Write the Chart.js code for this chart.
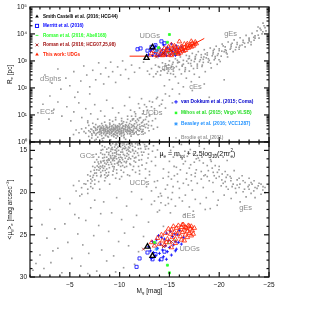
<!DOCTYPE html>
<html>
<head>
<meta charset="utf-8">
<script src="https://cdn.jsdelivr.net/npm/chart.js@4.4.1/dist/chart.umd.min.js"></script>
<style>
  html, body { margin: 0; padding: 0; background: #fff; }
  #wrap { width: 309px; height: 329px; }
</style>
</head>
<body>
<div id="wrap"><canvas id="grafico"></canvas></div>
<script>
// ---- datos ----
// eje x: M_g [mag]; panel superior: R_e [pc]; panel inferior: <mu_g>_e [mag arcsec^-2]
const magTicks = [-5, -10, -15, -20, -25];
const reTicks = [1, 10, 100, 1000, 10000, 100000];
const reTickLabels = ['10⁰', '10¹', '10²', '10³', '10⁴', '10⁵'];
const muTicks = [15, 20, 25, 30];

// This work: UDGs
const udgTop = [[-13.2,1900],[-13.5,2300],[-13.8,1700],[-14.0,2600],[-14.2,2000],[-14.3,1600],[-14.5,2900],[-14.6,2200],[-14.8,1800],[-14.9,3300],[-15.0,2500],[-15.1,2000],[-15.2,1600],[-15.3,2800],[-15.4,2300],[-15.5,3600],[-15.6,1900],[-15.7,2600],[-15.8,2100],[-15.9,3000],[-16.0,2400],[-16.1,2000],[-16.2,3400],[-16.3,2700],[-16.4,2300],[-16.5,3100],[-16.6,2500],[-16.7,2900],[-16.8,3700],[-16.9,3000],[-17.0,3400],[-17.1,3900],[-17.2,3300],[-17.3,4500],[-17.4,3600],[-17.5,4100],[-17.6,5000],[-17.7,4400],[-16.2,2900],[-16.8,4300],[-15.6,3200],[-17.2,5300],[-16.5,4200],[-14.7,2500],[-15.2,3900],[-16.0,5200],[-14.4,1800],[-15.9,1800]];
const udgBottom = [[-13.2,25.9],[-13.5,26.3],[-13.8,25.4],[-14.0,26.1],[-14.2,25.0],[-14.3,25.7],[-14.5,26.2],[-14.6,24.8],[-14.8,25.5],[-14.9,24.3],[-15.0,25.9],[-15.1,24.9],[-15.2,24.4],[-15.3,25.3],[-15.4,24.0],[-15.5,24.7],[-15.6,25.5],[-15.7,24.2],[-15.8,24.9],[-15.9,23.9],[-16.0,24.5],[-16.1,25.2],[-16.2,24.1],[-16.3,24.7],[-16.4,23.8],[-16.5,24.4],[-16.6,25.0],[-16.7,24.2],[-16.8,24.6],[-16.9,23.9],[-17.0,24.8],[-17.1,24.3],[-17.2,24.0],[-17.3,24.5],[-17.4,24.9],[-17.5,24.2],[-16.6,24.1],[-17.0,24.0],[-16.3,23.8],[-16.2,25.6],[-16.8,25.3],[-15.6,26.0],[-17.2,25.1],[-16.5,25.7],[-14.7,25.9],[-15.2,26.5]];
const udgLimit = [[-11.0,1500],[-15.2,1500],[-18.5,6800]];

const smithTop = [[-12.7,1300],[-13.3,3200]];
const smithBottom = [[-12.8,26.4],[-13.3,27.5]];

const merrittTop = [[-11.8,2700],[-12.1,2900],[-13.2,3300],[-14.2,5300],[-14.5,4500],[-12.8,2400],[-13.6,3800]];
const merrittBottom = [[-11.7,28.8],[-12.0,27.8],[-13.3,27.9],[-14.2,27.9],[-13.6,27.3],[-12.8,27.1],[-14.5,27.0]];

const romanAbellTop = [[-14.8,2000],[-15.5,1800]];
const romanAbellBottom = [[-14.8,26.0],[-15.5,25.6]];

const romanHcgTop = [[-13.7,1400],[-14.4,1900],[-15.2,2500]];
const romanHcgBottom = [[-12.4,26.7],[-14.4,26.4],[-15.2,25.8]];

const vanDokkumTop = [[-12.9,1700],[-13.1,2300],[-13.3,1600],[-13.4,2800],[-13.5,2000],[-13.6,3500],[-13.7,1800],[-13.8,2500],[-13.9,1550],[-14.0,3000],[-14.1,2100],[-14.2,1700],[-14.3,2600],[-14.4,3900],[-14.5,1900],[-14.6,2300],[-14.7,1600],[-14.8,3200],[-14.9,2000],[-15.0,2700],[-15.1,1750],[-15.2,4300],[-15.3,2200],[-15.4,3000],[-15.5,1900],[-15.6,2500],[-15.7,3600],[-15.8,2100],[-15.9,2800],[-16.0,1800],[-16.2,3300],[-16.4,2400],[-13.2,2600],[-14.0,1600],[-14.7,2900],[-15.6,1600]];
const vanDokkumBottom = [[-12.9,26.4],[-13.1,26.9],[-13.3,25.8],[-13.4,27.1],[-13.5,26.0],[-13.6,27.5],[-13.7,25.6],[-13.8,26.6],[-13.9,25.1],[-14.0,27.2],[-14.1,26.1],[-14.2,25.3],[-14.3,26.8],[-14.4,27.6],[-14.5,25.5],[-14.6,26.3],[-14.7,24.8],[-14.8,27.0],[-14.9,25.7],[-15.0,26.5],[-15.1,24.6],[-15.2,27.4],[-15.3,25.2],[-15.4,26.2],[-15.5,24.9],[-15.6,25.8],[-15.7,26.7],[-15.8,25.0],[-15.9,25.9],[-16.0,24.5],[-16.2,26.1],[-16.4,25.3],[-13.2,27.8],[-14.0,28.0],[-14.7,27.9],[-15.6,26.9]];

const mihosTop = [[-15.0,9500],[-14.8,4900],[-13.9,3100]];
const mihosBottom = [[-14.8,28.6],[-15.0,29.5],[-13.5,25.9]];

const beasleyTop = [[-13.7,2400]];
const beasleyBottom = [[-13.7,26.7]];

// Brodie et al. (2011)
const brodieTop = [
  [-6.6,2.1],[-6.6,3.3],[-6.9,1.6],[-6.9,2.6],[-6.9,4.1],[-7.2,2.0],[-7.2,2.9],[-7.2,1.4],[-7.4,3.6],[-7.4,2.3],
  [-7.6,1.8],[-7.6,2.7],[-7.6,4.4],[-7.6,3.1],[-7.8,2.2],[-7.8,1.5],[-7.8,3.4],[-8.0,2.5],[-8.0,3.9],[-8.0,1.9],[-8.0,2.9],
  [-8.2,1.7],[-8.2,3.2],[-8.2,2.2],[-8.2,4.8],[-8.4,2.6],[-8.4,2.0],[-8.4,3.6],[-8.4,1.4],[-8.6,3.0],[-8.6,2.4],[-8.6,1.8],
  [-8.6,4.2],[-8.6,2.8],[-8.8,2.1],[-8.8,3.4],[-8.8,2.7],[-8.8,1.6],[-9.0,2.9],[-9.0,2.3],[-9.0,3.8],[-9.0,1.9],[-9.0,5.0],
  [-9.2,2.5],[-9.2,3.1],[-9.2,1.7],[-9.2,2.2],[-9.4,3.5],[-9.4,2.8],[-9.4,2.0],[-9.4,4.4],[-9.4,2.6],[-9.6,2.4],[-9.6,3.0],
  [-9.6,1.8],[-9.6,3.7],[-9.8,2.7],[-9.8,2.1],[-9.8,4.0],[-9.8,3.3],[-9.8,1.6],[-10.0,2.9],[-10.0,2.4],[-10.0,3.6],[-10.0,1.9],
  [-10.2,3.2],[-10.2,2.6],[-10.2,2.0],[-10.2,4.6],[-10.4,2.8],[-10.4,3.9],[-10.4,2.2],[-10.4,1.7],[-10.6,3.4],[-10.6,2.5],
  [-10.6,4.3],[-10.8,2.9],[-10.8,2.0],[-10.8,3.7],[-11.0,3.1],[-11.0,4.8],[-11.0,2.4],[-11.2,3.5],[-11.2,2.7],[-11.4,4.1],
  [-11.4,3.0],[-11.7,3.6],[-11.7,5.2],[-12.0,4.4],[-12.0,3.2],[-12.3,5.5],
  [-8.13,2.35],[-8.47,3.05],[-8.92,2.48],[-9.37,3.27],[-9.71,2.12],[-10.13,2.77],[-10.52,3.02],[-10.94,2.61],[-9.08,2.69],[-9.55,2.26],
  [-8.66,2.05],[-10.27,3.45],[-9.83,2.93],[-9.19,3.62],[-8.38,2.83],[-10.71,2.31],[-11.08,2.88],[-9.47,1.93],[-8.79,3.12],[-10.38,2.53],
  [-9.63,3.32],[-8.97,2.17],[-10.05,2.07],[-9.29,2.41],[-8.55,2.63],[-9.91,2.55],[-10.61,2.84],[-9.14,2.98],[-8.24,2.71],[-10.84,3.29],
  [-7.93,2.31],[-7.66,2.04],[-7.37,2.58],[-7.11,3.03],[-11.33,2.52],[-11.56,3.21],[-11.82,2.79],[-12.12,2.95],[-12.43,3.8],[-12.71,4.6],
  [-9.76,1.75],[-9.42,1.58],[-10.18,1.66],[-8.87,1.52],[-10.47,1.91],[-9.02,4.45],[-9.58,4.12],[-10.33,3.88],[-8.71,3.83],[-10.89,4.18],
  [-8.29,4.03],[-9.97,4.71],[-7.84,3.75],[-11.19,4.36],[-11.47,3.62],[-6.43,2.42],[-6.18,3.05],[-5.92,2.18],[-5.63,2.76],[-5.37,1.88],
  [-9.33,2.84],[-9.66,2.63],[-10.01,3.18],[-8.44,2.27],[-8.06,2.78],[-10.76,2.72],[-9.88,2.36],[-9.51,2.91],[-10.23,2.19],[-8.83,2.56],
  [-7.52,3.41],[-7.23,1.75],[-8.58,1.71],[-11.02,1.99],[-11.63,2.33],[-12.27,2.46],[-10.57,3.71],[-9.24,3.95],[-8.15,3.52],[-9.71,3.58],
  [-12.85,3.3],[-13.2,4.0],[-11.9,6.2],[-10.4,5.6],[-9.3,5.8],[-8.5,5.4],[-7.3,4.9],[-6.8,5.2],[-12.6,6.8],[-11.3,6.5],
  [-10.3,4.9],[-10.7,5.3],[-11.1,5.9],[-11.5,4.7],[-11.8,4.2],[-12.2,5.1],[-12.5,4.4],[-12.9,5.7],[-13.3,6.1],[-11.4,7.2],
  [-10.8,6.9],[-12.0,7.8],[-12.7,8.5],[-11.6,8.9],[-10.2,7.4],[-9.6,6.6],[-13.6,7.3],[-13.0,9.2],[-11.0,3.4],[-11.3,3.9],
  [-11.7,3.1],[-12.05,3.65],[-12.35,2.85],[-12.6,3.45],[-12.9,4.1],[-11.25,2.25],[-10.95,3.55],[-10.65,4.05],[-10.35,3.15],[-10.05,4.25],
  [-9.85,3.75],[-9.45,3.15],[-9.15,2.05],[-8.95,3.35],[-8.65,3.55],[-8.35,3.25],[-8.05,3.25],[-7.75,2.85],[-7.45,2.15],[-7.05,2.35],
  [-10.45,1.45],[-11.15,1.65],[-11.85,1.85],[-12.55,2.15],[-9.65,1.38],[-8.25,1.32],[-7.65,1.25],[-12.95,2.6],[-13.4,3.0],[-13.8,3.5],
  [-11.45,2.05],[-11.95,2.55],[-12.25,3.95],[-10.85,2.45],[-10.15,2.35],[-9.35,1.85],[-8.75,2.35],[-8.15,2.05],[-11.6,6.0],[-12.4,6.4],
  [-8.3,1.1],[-9.1,1.2],[-9.9,1.05],[-10.6,1.25],[-7.5,1.15],
  [-1.8,12],[-2.3,25],[-2.9,7],[-3.4,16],[-3.8,30],[-4.2,9],[-4.7,20],[-5.1,6],[-5.4,13],[-5.9,28],[-6.2,8],[-6.6,17],
  [-6.8,6],[-7.1,11],[-7.5,24],[-7.8,7],[-8.1,14],[-8.5,9],[-8.7,35],[-9.0,6.5],[-9.3,18],[-9.6,8],[-9.9,12],[-10.2,6],
  [-10.5,22],[-10.8,9],[-11.1,15],[-11.3,7],[-11.6,11],[-11.9,26],[-12.1,8],[-12.4,14],[-12.7,20],[-13.0,10],[-13.3,30],
  [-13.5,17],[-13.8,45],[-14.2,25],[-14.6,60],[-12.2,40],[-11.0,45],[-5.5,45],[-3.0,50],[-7.0,60],
  [-11.2,9],[-11.5,13],[-11.8,7],[-12.0,18],[-12.3,11],[-12.5,24],[-12.8,15],[-13.0,32],[-13.2,20],[-13.5,12],[-13.7,40],
  [-14.0,22],[-14.3,35],[-14.6,18],[-15.0,50],[-15.3,28],
  [-2.5,300],[-3.2,150],[-3.8,500],[-4.1,90],[-4.6,230],[-5.0,120],[-5.4,400],[-5.8,70],[-6.1,180],[-6.4,650],[-6.7,300],
  [-7.0,110],[-7.3,450],[-7.6,200],[-7.9,850],[-8.1,330],[-8.4,140],[-8.6,550],[-8.9,260],[-9.1,900],[-9.3,400],[-9.6,160],
  [-9.8,600],[-10.1,300],[-10.3,1000],[-10.6,480],[-10.9,220],[-11.2,700],[-11.5,380],[-12.0,550],[-12.4,900],[-12.8,420],
  [-13.0,320],[-13.2,520],[-13.4,260],[-13.6,700],[-13.8,400],[-14.0,580],[-14.1,300],[-14.3,850],[-14.5,450],[-14.6,650],
  [-14.8,350],[-15.0,1000],[-15.1,550],[-15.3,750],[-15.4,420],[-15.6,1200],[-15.7,620],[-15.9,900],[-16.0,480],[-16.1,1400],
  [-16.3,700],[-16.4,1050],[-16.6,560],[-16.7,1600],[-16.9,820],[-17.0,1250],[-17.2,650],[-17.3,1900],[-17.5,950],[-17.6,1450],
  [-17.8,760],[-17.9,2200],[-18.1,1100],[-18.2,1700],[-18.4,880],[-18.5,2600],[-18.7,1300],[-18.8,2000],[-19.0,1050],
  [-19.1,3000],[-19.3,1550],[-19.4,2400],[-19.6,1250],[-19.7,3500],[-19.9,1850],[-20.0,2800],[-20.2,1500],[-20.3,4200],
  [-20.5,2200],[-20.6,3300],[-20.8,1800],[-20.9,5000],[-21.1,2700],[-21.2,4000],[-21.4,2200],[-21.5,6000],[-21.7,3200],
  [-21.8,4800],[-22.0,2700],[-22.1,7200],[-22.3,3900],[-22.4,5800],[-22.6,3300],[-22.7,8800],[-22.9,4700],[-23.0,7000],
  [-23.2,4000],[-23.3,10500],[-23.5,5800],[-23.6,8500],[-23.8,13000],[-24.0,7000],[-24.1,16000],[-24.3,10000],[-24.5,20000],
  [-24.7,13000],[-23.9,18000],[-24.4,25000],
  [-14.37,480],[-14.92,720],[-15.47,560],[-15.83,850],[-16.28,640],[-16.74,980],[-17.13,800],[-17.58,1150],[-18.02,950],[-18.46,1400],
  [-18.91,1200],[-19.37,1800],[-19.82,1600],[-20.26,2300],[-20.71,2000],[-21.17,3000],[-21.63,2600],[-22.08,3700],[-22.54,4500],[-23.01,5500],
  [-23.47,7500],[-23.92,9000],[-24.38,12000],[-16.55,410],[-17.42,520],[-18.27,620],[-19.13,820],[-19.98,1100],[-20.84,1400],[-15.12,340],
  [-13.65,330],[-14.15,430],[-14.86,530],[-15.37,880],[-16.9,1200],[-17.7,1700],[-18.6,1800],[-19.5,2700],[-20.4,3600],[-21.3,4500],
  [-14.6,780],[-15.2,640],[-15.8,1050],[-16.4,760],[-17.0,1500],[-17.6,1250],[-18.2,1350],[-18.8,1650],[-19.4,2050],[-20.0,2400],
  [-20.6,2600],[-21.2,3500],[-21.8,4100],[-22.4,4900],[-23.0,6300],[-23.6,7000],[-24.2,14000],[-13.9,620],[-14.9,420],[-16.0,900],
  [-17.2,1050],[-18.4,1150],[-19.6,1450],[-20.7,2400],[-22.0,3200],[-23.2,5000],[-24.6,17000],[-15.4,320],[-16.6,480],[-17.8,650],
  [-14.5,120],[-15.0,200],[-15.3,90],[-15.6,260],[-15.9,150],[-16.2,330],[-16.4,110],[-16.7,230],[-17.0,420],[-17.2,170],
  [-17.5,320],[-17.8,540],[-18.0,250],[-18.3,700],[-18.6,400],[-18.9,900],[-19.2,550],[-19.5,1100],[-19.8,750],[-20.1,950],
  [-16.0,60],[-17.3,80],[-18.5,140],[-19.0,45],[-20.5,200]
];
const brodieBottom = [
  [-6.8,18.6],[-6.8,19.6],[-6.8,17.9],[-7.1,17.5],[-7.1,18.9],[-7.1,19.3],[-7.3,16.9],[-7.3,18.2],[-7.5,17.7],[-7.5,19.0],
  [-7.5,16.4],[-7.5,18.5],[-7.7,16.1],[-7.7,17.3],[-7.7,18.0],[-7.9,17.0],[-7.9,15.8],[-7.9,18.7],[-7.9,16.6],[-8.1,16.3],
  [-8.1,17.6],[-8.1,15.3],[-8.1,18.1],[-8.3,15.9],[-8.3,16.8],[-8.3,17.4],[-8.3,14.9],[-8.5,16.5],[-8.5,15.5],[-8.5,17.9],
  [-8.5,14.6],[-8.5,16.9],[-8.7,15.2],[-8.7,16.2],[-8.7,17.2],[-8.7,15.8],[-8.9,14.7],[-8.9,16.0],[-8.9,15.5],[-8.9,17.6],
  [-8.9,16.7],[-9.1,15.1],[-9.1,16.4],[-9.1,14.4],[-9.1,15.8],[-9.3,14.9],[-9.3,15.6],[-9.3,16.9],[-9.3,14.2],[-9.3,16.2],
  [-9.5,15.3],[-9.5,14.6],[-9.5,16.6],[-9.5,15.9],[-9.7,14.3],[-9.7,15.1],[-9.7,16.0],[-9.7,17.3],[-9.7,14.8],[-9.9,15.5],
  [-9.9,14.1],[-9.9,16.3],[-9.9,15.0],[-10.1,14.6],[-10.1,15.8],[-10.1,14.2],[-10.1,16.9],[-10.3,15.2],[-10.3,14.4],[-10.3,16.1],
  [-10.5,14.0],[-10.5,15.6],[-10.5,14.8],[-10.5,17.0],[-10.7,15.0],[-10.7,14.3],[-10.7,16.3],[-10.9,14.6],[-10.9,15.5],[-10.9,14.1],
  [-11.1,15.2],[-11.1,16.0],[-11.3,14.5],[-11.3,15.7],[-11.6,15.1],[-11.6,14.2],[-11.6,16.4],[-11.9,15.6],[-11.9,14.8],[-12.2,16.1],
  [-8.13,16.45],[-8.47,15.83],[-8.92,15.27],[-9.37,15.92],[-9.71,15.46],[-10.13,15.21],[-10.52,14.53],[-10.94,15.08],[-9.08,15.62],[-9.55,14.97],
  [-8.66,16.62],[-10.27,14.91],[-9.83,14.62],[-9.19,16.63],[-8.38,17.12],[-10.71,15.68],[-11.08,14.42],[-9.47,16.21],[-8.79,16.41],[-10.38,15.47],
  [-9.63,15.72],[-8.97,17.05],[-10.05,15.52],[-9.29,15.33],[-8.55,17.38],[-9.91,15.86],[-10.61,14.71],[-9.14,15.96],[-8.24,16.97],[-10.84,14.88],
  [-7.93,17.36],[-7.66,17.68],[-7.37,17.95],[-7.11,18.42],[-11.33,15.03],[-11.56,14.63],[-11.82,14.35],[-12.12,14.78],[-12.43,15.22],[-12.71,14.51],
  [-9.76,16.52],[-9.42,17.21],[-10.18,16.47],[-8.87,17.93],[-10.47,16.33],[-9.02,14.21],[-9.58,14.35],[-10.33,14.12],[-8.71,14.86],[-10.89,14.23],
  [-8.29,15.47],[-9.97,14.43],[-7.84,16.38],[-11.19,14.18],[-11.47,15.36],[-6.43,18.95],[-6.18,19.42],[-5.92,18.63],[-5.63,19.81],[-5.37,19.16],
  [-9.33,16.05],[-9.66,15.28],[-10.01,16.11],[-8.44,16.21],[-8.06,16.88],[-10.76,15.35],[-9.88,16.73],[-9.51,15.67],[-10.23,15.88],[-8.83,16.14],
  [-7.52,17.02],[-7.23,18.63],[-8.58,18.24],[-11.02,16.58],[-11.63,15.82],[-12.27,15.56],[-10.57,15.93],[-9.24,14.67],[-8.15,14.98],[-9.71,17.71],
  [-12.85,15.9],[-13.2,16.3],[-11.9,16.9],[-10.4,17.6],[-9.3,17.9],[-8.5,18.6],[-7.3,19.5],[-6.8,20.1],[-12.6,17.2],[-11.3,17.3],
  [-10.3,16.8],[-10.7,16.9],[-11.1,16.7],[-11.5,15.9],[-11.8,15.3],[-12.2,15.2],[-12.5,14.3],[-12.9,14.8],[-13.3,15.1],[-11.4,16.9],
  [-10.8,17.9],[-12.0,17.4],[-12.7,16.5],[-11.6,17.6],[-10.2,18.1],[-9.6,18.3],[-13.6,15.8],[-13.0,17.9],[-11.0,14.7],[-11.3,14.9],
  [-11.7,14.0],[-12.05,14.35],[-12.35,14.05],[-12.6,14.85],[-12.9,15.45],[-11.25,14.25],[-10.95,15.85],[-10.65,16.45],[-10.35,14.75],[-10.05,16.35],
  [-9.85,16.45],[-9.45,16.95],[-9.15,14.85],[-8.95,16.15],[-8.65,17.65],[-8.35,16.25],[-8.05,17.15],[-7.75,16.85],[-7.45,17.35],[-7.05,18.05],
  [-10.45,14.25],[-11.15,14.05],[-11.85,14.15],[-12.55,14.55],[-9.65,14.15],[-8.25,14.45],[-7.65,15.45],[-12.95,14.25],[-13.4,14.45],[-13.8,14.95],
  [-11.45,16.25],[-11.95,16.15],[-12.25,16.75],[-10.85,16.05],[-10.15,17.35],[-9.35,17.45],[-8.75,18.05],[-8.15,17.95],[-6.6,19.0],[-6.2,20.2],
  [-1.3,29.2],[-1.6,28.4],[-2.0,27.4],[-2.4,29.0],[-2.7,25.4],[-3.1,28.3],[-3.5,24.3],[-3.8,26.6],[-4.2,29.5],[-4.5,23.7],
  [-4.8,25.9],[-5.2,27.8],[-5.5,22.6],[-5.8,24.9],[-6.1,28.7],[-6.3,26.2],[-6.6,23.3],[-6.9,27.2],[-7.1,21.8],[-7.4,25.1],
  [-7.7,29.3],[-7.9,23.9],[-8.2,26.8],[-8.4,21.1],[-8.7,28.1],[-8.9,24.6],[-9.2,22.4],[-9.4,27.5],[-9.7,20.6],[-9.9,25.8],
  [-10.2,23.2],[-10.4,28.9],[-10.7,21.6],[-10.9,26.3],[-11.2,19.9],[-11.4,24.1],[-11.7,22.7],[-11.9,27.0],[-12.2,20.8],[-12.4,25.2],
  [-12.7,19.3],[-12.9,23.5],[-13.2,21.4],[-13.5,18.7],[-13.8,22.3],[-14.1,20.1],[-14.4,24.0],[-6.0,20.4],[-5.0,21.3],[-3.0,22.0],
  [-8.0,19.6],[-9.0,19.0],[-10.0,18.4],[-7.5,20.9],[-11.0,18.0],[-12.0,17.8],[-12.6,18.3],[-13.0,17.5],[-2.2,23.8],[-4.0,20.7],
  [-6.8,29.6],[-9.6,29.4],[-11.5,28.5],[-13.7,26.0],[-3.3,26.9],[-5.9,23.0],[-8.1,22.5],[-10.5,24.8],
  [-13.2,19.8],[-13.5,21.0],[-13.8,18.6],[-14.0,22.1],[-14.2,20.4],[-14.4,17.2],[-14.6,21.5],[-14.8,19.1],[-15.0,16.3],[-15.1,22.4],
  [-15.3,20.0],[-15.5,18.0],[-15.6,21.6],[-15.8,15.6],[-16.0,19.5],[-16.1,17.3],[-16.3,21.0],[-16.4,16.6],[-16.6,20.3],[-16.7,18.4],
  [-16.9,15.2],[-17.0,21.7],[-17.2,17.9],[-17.3,19.7],[-17.5,16.4],[-17.6,20.8],[-17.8,18.9],[-17.9,15.9],[-18.1,21.3],[-18.2,17.5],
  [-18.4,19.4],[-18.5,14.8],[-18.7,20.6],[-18.8,16.8],[-19.0,18.6],[-19.1,21.9],[-19.3,17.1],[-19.4,19.9],[-19.6,15.5],[-19.7,18.3],
  [-19.9,20.9],[-20.0,16.9],[-20.2,19.2],[-20.3,17.8],[-20.5,20.3],[-20.6,18.7],[-20.8,16.2],[-20.9,19.6],[-21.1,18.1],[-21.2,20.7],
  [-21.4,19.0],[-21.5,17.4],[-21.7,20.0],[-21.8,18.5],[-22.0,19.4],[-22.1,21.1],[-22.3,18.0],[-22.4,19.9],[-22.6,18.8],[-22.7,20.5],
  [-22.9,19.3],[-23.0,18.3],[-23.2,20.1],[-23.3,19.0],[-23.5,18.6],[-23.6,20.6],[-23.8,19.5],[-24.0,18.9],[-24.2,20.2],[-24.4,19.3],
  [-24.6,20.0],[-15.4,14.6],[-16.2,14.3],[-17.1,14.9],[-18.0,14.5],[-16.8,15.7],[-17.7,16.0],[-15.7,17.0],[-14.9,18.1],[-19.2,16.3],
  [-20.4,15.8],[-13.6,16.8],[-14.3,15.5],[-15.2,20.8],[-16.5,22.6],[-17.4,22.2],[-18.6,22.0],[-19.8,21.5],
  [-14.37,18.3],[-14.92,17.6],[-15.47,16.9],[-15.83,18.7],[-16.28,16.0],[-16.74,17.7],[-17.13,16.7],[-17.58,18.1],[-18.02,16.2],[-18.46,18.0],
  [-18.91,17.4],[-19.37,18.8],[-19.82,17.6],[-20.26,18.5],[-20.71,19.3],[-21.17,18.6],[-21.63,19.5],[-22.08,19.0],[-22.54,19.6],[-23.01,19.1],
  [-23.47,19.8],[-23.92,19.2],[-24.38,19.7],[-16.55,15.1],[-17.42,15.4],[-18.27,15.8],[-19.13,16.1],[-19.98,17.3],[-20.84,17.9],[-15.12,15.0],
  [-13.65,19.4],[-14.15,21.2],[-14.86,20.6],[-15.37,19.3],[-16.9,19.1],[-17.7,17.3],[-18.6,17.9],[-19.5,18.0],[-20.4,18.9],[-21.3,19.3],
  [-14.6,19.6],[-15.2,18.4],[-15.8,17.8],[-16.4,18.9],[-17.0,17.1],[-17.6,17.7],[-18.2,18.4],[-18.8,18.1],[-19.4,17.6],[-20.0,18.1],
  [-20.6,17.5],[-21.2,18.3],[-21.8,19.1],[-22.4,18.6],[-23.0,19.6],[-23.6,19.4],[-24.2,19.0],[-13.9,20.5],[-14.9,21.3],[-16.0,20.6],
  [-17.2,18.6],[-18.4,16.5],[-19.6,16.8],[-20.7,18.2],[-22.0,18.3],[-23.2,18.8],[-24.6,19.4],[-15.4,15.8],[-16.6,16.3],[-17.8,15.6]
];

// ---- estilos ----
const RED = '#ff2200', BLUE = '#0000ff', GREEN = '#2bff2b', DARKRED = '#a01010', CYAN = '#1e90ff', GREY = '#9a9a9a';
const FONT = '"Liberation Sans", Arial, sans-serif';
const font = (s, b) => (b ? 'bold ' : '') + s + 'px ' + FONT;

function serie(data, axis, style) {
    return Object.assign({ data: data, yAxisID: axis, borderWidth: 0.8, pointBackgroundColor: 'rgba(0,0,0,0)' }, style);
}

const estilos = {
    udg:   { pointStyle: 'triangle', pointRadius: 2.6, pointBorderColor: RED },
    smith: { pointStyle: 'triangle', pointRadius: 3, pointBorderColor: '#000', borderWidth: 1.3 },
    merr:  { pointStyle: 'rect', pointRadius: 2.2, pointBorderColor: BLUE },
    abell: { pointStyle: 'dash', pointRadius: 1.6, pointBorderColor: GREEN },
    hcg:   { pointStyle: 'crossRot', pointRadius: 2, pointBorderColor: DARKRED },
    vdk:   { pointStyle: 'cross', pointRadius: 1.6, pointBorderColor: BLUE },
    mihos: { pointStyle: 'rect', pointRadius: 1.4, pointBorderColor: GREEN, pointBackgroundColor: GREEN },
    beas:  { pointStyle: 'star', pointRadius: 2, pointBorderColor: CYAN },
    brod:  { pointStyle: 'rect', pointRadius: 1.15, pointBorderColor: GREY, pointBackgroundColor: GREY, borderWidth: 0 }
};

const datasets = [
    serie(smithTop, 'yR', estilos.smith), serie(smithBottom, 'yM', estilos.smith),
    serie(mihosTop, 'yR', estilos.mihos), serie(mihosBottom, 'yM', estilos.mihos),
    serie(beasleyTop, 'yR', estilos.beas), serie(beasleyBottom, 'yM', estilos.beas),
    serie(romanHcgTop, 'yR', estilos.hcg), serie(romanHcgBottom, 'yM', estilos.hcg),
    serie(romanAbellTop, 'yR', estilos.abell), serie(romanAbellBottom, 'yM', estilos.abell),
    serie(udgTop, 'yR', estilos.udg), serie(udgBottom, 'yM', estilos.udg),
    serie(merrittTop, 'yR', estilos.merr), serie(merrittBottom, 'yM', estilos.merr),
    serie(vanDokkumTop, 'yR', estilos.vdk), serie(vanDokkumBottom, 'yM', estilos.vdk),
    { data: udgLimit, yAxisID: 'yR', showLine: true, borderColor: RED, borderWidth: 1, pointRadius: 0 },
    serie(brodieTop, 'yR', estilos.brod), serie(brodieBottom, 'yM', estilos.brod)
];

// ---- texto con sub/superindices ----
function richWidth(ctx, segs, size) {
    let w = 0;
    segs.forEach(s => {
        ctx.font = font(s.sub || s.sup || s.both ? size * 0.65 : size);
        w += Math.max(ctx.measureText(s.t).width, s.t2 ? ctx.measureText(s.t2).width : 0);
    });
    return w;
}
function drawRich(ctx, segs, x, y, size) {
    let cx = x;
    ctx.textBaseline = 'middle';
    ctx.textAlign = 'left';
    segs.forEach(s => {
        const small = s.sub || s.sup || s.both;
        ctx.font = font(small ? size * 0.65 : size);
        if (s.both) {
            ctx.fillText(s.t, cx, y - size * 0.4);
            ctx.fillText(s.t2, cx, y + size * 0.35);
            cx += Math.max(ctx.measureText(s.t).width, ctx.measureText(s.t2).width);
            return;
        }
        const dy = s.sub ? size * 0.35 : s.sup ? -size * 0.4 : 0;
        ctx.fillText(s.t, cx, y + dy);
        cx += ctx.measureText(s.t).width;
    });
}

function marca(ctx, tipo, x, y, r, color) {
    ctx.save();
    ctx.strokeStyle = color; ctx.fillStyle = color; ctx.lineWidth = 0.9;
    ctx.beginPath();
    if (tipo === 'tri') {
        ctx.moveTo(x, y - r); ctx.lineTo(x + r * 0.9, y + r * 0.6); ctx.lineTo(x - r * 0.9, y + r * 0.6); ctx.closePath(); ctx.fill();
    } else if (tipo === 'sq') {
        ctx.strokeRect(x - r * 0.8, y - r * 0.8, r * 1.6, r * 1.6);
    } else if (tipo === 'fsq') {
        ctx.fillRect(x - r * 0.7, y - r * 0.7, r * 1.4, r * 1.4);
    } else if (tipo === 'dash') {
        ctx.moveTo(x - r * 0.7, y); ctx.lineTo(x + r * 0.7, y); ctx.stroke();
    } else if (tipo === 'x') {
        ctx.moveTo(x - r * 0.7, y - r * 0.7); ctx.lineTo(x + r * 0.7, y + r * 0.7);
        ctx.moveTo(x + r * 0.7, y - r * 0.7); ctx.lineTo(x - r * 0.7, y + r * 0.7); ctx.stroke();
    } else if (tipo === 'plus') {
        ctx.moveTo(x - r, y); ctx.lineTo(x + r, y); ctx.moveTo(x, y - r); ctx.lineTo(x, y + r); ctx.stroke();
    } else if (tipo === 'star') {
        for (let k = 0; k < 3; k++) {
            const a = k * Math.PI / 3;
            ctx.moveTo(x - Math.cos(a) * r, y - Math.sin(a) * r); ctx.lineTo(x + Math.cos(a) * r, y + Math.sin(a) * r);
        }
        ctx.stroke();
    } else {
        ctx.fillRect(x - 0.7, y - 0.7, 1.4, 1.4);
    }
    ctx.restore();
}

const leyendaIzq = [
    ['tri', '#000', 'Smith Castelli et al. (2016; HCG44)', '#000'],
    ['sq', BLUE, 'Merritt et al. (2016)', BLUE],
    ['dash', GREEN, 'Roman et al. (2016; Abell168)', GREEN],
    ['x', DARKRED, 'Roman et al. (2016; HCG07,25,98)', DARKRED],
    ['tri', RED, 'This work: UDGs', RED]
];
const leyendaDer = [
    ['plus', BLUE, 'van Dokkum et al. (2015; Coma)', '#0000cc'],
    ['fsq', GREEN, 'Mihos et al. (2015; Virgo VLSB)', '#22dd22'],
    ['star', CYAN, 'Beasley et al. (2016; VCC1287)', CYAN],
    ['dot', GREY, 'Brodie et al. (2011)', '#999']
];

const etiquetasTop = [['UDGs', -12, 8700], ['dSphs', -2, 216], ['ECs', -2, 12.5], ['GCs', -11, 2.1], ['UCDs', -12.3, 11.5], ['dEs', -14.2, 550], ['cEs', -17, 110], ['gEs', -20.5, 10300]];
const etiquetasBottom = [['GCs', -6, 15.6], ['UCDs', -11, 18.8], ['dEs', -16.3, 22.8], ['gEs', -22, 21.8], ['UDGs', -16, 26.7]];

const marco = {
    id: 'marco',
    afterDraw(chart) {
        const { ctx, chartArea: a, scales } = chart;
        const x = scales.x, yR = scales.yR, yM = scales.yM;
        ctx.save();
        ctx.strokeStyle = '#111';
        ctx.lineWidth = 1.2;
        const seg = (x1, y1, x2, y2) => { ctx.beginPath(); ctx.moveTo(x1, y1); ctx.lineTo(x2, y2); ctx.stroke(); };

        [yR, yM].forEach(s => {
            ctx.strokeRect(a.left, s.top, a.right - a.left, s.bottom - s.top);
            for (let v = -1; v >= -25; v--) {
                const px = x.getPixelForValue(v);
                const len = v % 5 === 0 ? 5 : 2.5;
                seg(px, s.bottom, px, s.bottom - len);
                seg(px, s.top, px, s.top + len);
            }
        });
        for (let d = 0; d < 5; d++) {
            for (let m = 1; m <= 9; m++) {
                const py = yR.getPixelForValue(m * Math.pow(10, d));
                const len = m === 1 ? 5 : 2.5;
                seg(a.left, py, a.left + len, py);
                seg(a.right, py, a.right - len, py);
            }
        }
        for (let v = 14; v <= 30; v++) {
            const py = yM.getPixelForValue(v);
            const len = v % 5 === 0 ? 5 : 2.5;
            seg(a.left, py, a.left + len, py);
            seg(a.right, py, a.right - len, py);
        }

        // etiquetas de regiones
        ctx.fillStyle = '#8a8a8a';
        ctx.font = font(7.5);
        ctx.textBaseline = 'middle';
        ctx.textAlign = 'left';
        etiquetasTop.forEach(e => ctx.fillText(e[0], x.getPixelForValue(e[1]), yR.getPixelForValue(e[2])));
        etiquetasBottom.forEach(e => ctx.fillText(e[0], x.getPixelForValue(e[1]), yM.getPixelForValue(e[2])));

        // leyendas
        leyendaIzq.forEach((l, i) => {
            const ly = yR.top + 9.5 + i * 9.5;
            marca(ctx, l[0], a.left + 7, ly, 2, l[1]);
            ctx.fillStyle = l[3];
            ctx.font = font(4.6, true);
            ctx.textBaseline = 'middle';
            ctx.fillText(l[2], a.left + 13, ly);
        });
        const dy = [0, 11, 22, 36];
        leyendaDer.forEach((l, i) => {
            const ly = yR.top + 95 + dy[i];
            marca(ctx, l[0], a.left + 146, ly, 1.8, l[1]);
            ctx.fillStyle = l[3];
            ctx.font = font(4.8, true);
            ctx.textBaseline = 'middle';
            ctx.fillText(l[2], a.left + 151, ly);
        });

        // formula
        ctx.fillStyle = '#111';
        drawRich(ctx, [{ t: 'μ' }, { t: 'e', sub: true }, { t: ' = m' }, { t: 'tot', sub: true }, { t: ' + 2.5log' }, { t: '10', sub: true }, { t: '(2πr' }, { both: true, t: '2', t2: 'e' }, { t: ')' }],
            x.getPixelForValue(-14), yM.top + 12, 7);

        // titulos de ejes
        const tituloY = (segs, cy) => {
            const w = richWidth(ctx, segs, 6.5);
            ctx.save();
            ctx.translate(10, cy);
            ctx.rotate(-Math.PI / 2);
            drawRich(ctx, segs, -w / 2, 0, 6.5);
            ctx.restore();
        };
        tituloY([{ t: 'R' }, { t: 'e', sub: true }, { t: ' [pc]' }], (yR.top + yR.bottom) / 2);
        tituloY([{ t: '<μ' }, { t: 'g', sub: true }, { t: '>' }, { t: 'e', sub: true }, { t: ' [mag arcsec' }, { t: '−2', sup: true }, { t: ']' }], (yM.top + yM.bottom) / 2);
        const tx = [{ t: 'M' }, { t: 'g', sub: true }, { t: ' [mag]' }];
        drawRich(ctx, tx, (a.left + a.right) / 2 - richWidth(ctx, tx, 6.5) / 2, a.bottom + 14, 6.5);
        ctx.restore();
    }
};

const tickFont = { family: FONT, size: 6.5 };

new Chart(document.getElementById('grafico').getContext('2d'), {
    type: 'scatter',
    data: { datasets: datasets },
    options: {
        responsive: true,
        maintainAspectRatio: false,
        animation: false,
        devicePixelRatio: 1,
        events: [],
        layout: { padding: { top: 5, right: 40, left: 0, bottom: 33 } },
        plugins: { legend: { display: false }, tooltip: { enabled: false } },
        scales: {
            x: {
                type: 'linear', min: -25, max: -1, reverse: true,
                grid: { display: false, drawTicks: false, tickLength: 0 }, border: { display: false },
                afterBuildTicks: s => { s.ticks = magTicks.map(v => ({ value: v })); },
                afterFit: s => { s.height = 19; },
                ticks: { autoSkip: false, maxRotation: 0, padding: 4, color: '#111', font: tickFont,
                         callback: v => '−' + Math.abs(v) }
            },
            yM: {
                type: 'linear', position: 'left', stack: 'panel', stackWeight: 1,
                min: 14, max: 30, reverse: true,
                grid: { display: false, drawTicks: false, tickLength: 0 }, border: { display: false },
                afterBuildTicks: s => { s.ticks = muTicks.map(v => ({ value: v })); },
                afterFit: s => { s.width = 30; },
                ticks: { autoSkip: false, padding: 3, color: '#111', font: tickFont }
            },
            yR: {
                type: 'logarithmic', position: 'left', stack: 'panel', stackWeight: 1,
                min: 1, max: 100000,
                grid: { display: false, drawTicks: false, tickLength: 0 }, border: { display: false },
                afterBuildTicks: s => { s.ticks = reTicks.map(v => ({ value: v })); },
                afterFit: s => { s.width = 30; },
                ticks: { autoSkip: false, padding: 3, color: '#111', font: tickFont,
                         callback: v => reTickLabels[reTicks.indexOf(v)] }
            }
        }
    },
    plugins: [marco]
});
</script>
</body>
</html>
